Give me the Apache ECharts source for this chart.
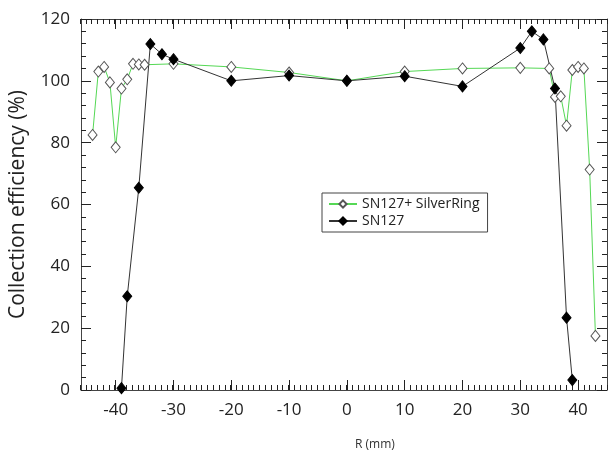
<!DOCTYPE html>
<html>
<head>
<meta charset="utf-8">
<script src="https://cdn.jsdelivr.net/npm/echarts@6/dist/echarts.min.js"></script>
<style>
  html, body { margin: 0; padding: 0; background: #fff; }
  #chart { width: 611px; height: 453px; }
</style>
</head>
<body>
<div id="chart"></div>
<script>
// R (mm) positions and collection efficiency (%)
var ringR   = [-44, -43, -42, -41, -40, -39, -38, -37, -36, -35, -30, -20, -10, 0, 10, 20, 30, 35, 36, 37, 38, 39, 40, 41, 42, 43]
var ringEff = [82.5, 103, 104.5, 99.5, 78.5, 97.5, 100.5, 105.5, 105.3, 105.2, 105.5, 104.5, 102.7, 100, 103, 104, 104.2, 104, 94.8, 95, 85.5, 103.5, 104.5, 104, 71.3, 17.5]

var bareR   = [-39, -38, -36, -34, -32, -30, -20, -10, 0, 10, 20, 30, 32, 34, 36, 38, 39]
var bareEff = [0.6, 30.3, 65.4, 111.9, 108.6, 107, 100, 101.7, 100, 101.5, 98.2, 110.6, 116, 113.4, 97.5, 23.4, 3.2]

var xMajor = [-40, -30, -20, -10, 0, 10, 20, 30, 40]

function pairs(xs, ys) {
    var out = []
    for (var i = 0; i < xs.length; i++) out.push([xs[i], ys[i]])
    return out
}

var font = 'Open Sans'
var axisColor = '#444'
var tickColor = '#222'
var box = { left: 80, right: 4, top: 19, bottom: 63 }

// grid 0 carries the data and major ticks, grid 1 (same box) only the 1 mm minor ticks
function xAx(pos, major) {
    return {
        type: 'value', gridIndex: major ? 0 : 1, position: pos, min: -46, max: 45,
        interval: major ? 10 : 1,
        axisLine: { show: major, onZero: false, lineStyle: { color: axisColor, width: 1 } },
        axisTick: major
            ? { show: true, inside: true, length: 10, customValues: xMajor, lineStyle: { color: tickColor, width: 1 } }
            : { show: true, inside: true, interval: 0, length: 5, lineStyle: { color: tickColor, width: 1 } },
        axisLabel: (major && pos === 'bottom')
            ? { show: true, customValues: xMajor, margin: 12, fontSize: 17, fontFamily: font, color: '#222' }
            : { show: false },
        splitLine: { show: false }
    }
}

function yAx(pos, gi) {
    return {
        type: 'value', gridIndex: gi, position: pos, min: 0, max: 120, interval: 20,
        axisLine: { show: gi === 0, onZero: false, lineStyle: { color: axisColor, width: 1 } },
        axisTick: { show: gi === 0, inside: true, length: 10, lineStyle: { color: tickColor, width: 1 } },
        minorTick: { show: gi === 0, splitNumber: 5, length: 5, lineStyle: { color: tickColor, width: 1 } },
        axisLabel: (pos === 'left' && gi === 0)
            ? { show: true, margin: 11, fontSize: 17, fontFamily: font, color: '#222' }
            : { show: false },
        splitLine: { show: false },
        name: (pos === 'left' && gi === 0) ? 'Collection efficiency (%)' : '',
        nameLocation: 'middle',
        nameGap: 52,
        nameTextStyle: { fontSize: 21, fontFamily: font, color: '#222' }
    }
}

var chart = echarts.init(document.getElementById('chart'))
chart.setOption({
    animation: false,
    backgroundColor: '#fff',
    grid: [box, box],
    title: {
        text: 'R (mm)', left: 350, top: 434,
        textStyle: { fontSize: 12, fontWeight: 'normal', fontFamily: font, color: '#333' }
    },
    legend: {
        orient: 'vertical', left: 322, top: 193,
        backgroundColor: '#fff',
        borderColor: axisColor, borderWidth: 1,
        padding: [4, 8, 4, 6], itemGap: 3,
        itemWidth: 28, itemHeight: 9,
        textStyle: { fontSize: 14, fontFamily: font, color: '#222' },
        data: ['SN127+ SilverRing', 'SN127']
    },
    xAxis: [xAx('bottom', true), xAx('top', true), xAx('bottom', false), xAx('top', false)],
    yAxis: [yAx('left', 0), yAx('right', 0), yAx('left', 1)],
    series: [{
        name: 'SN127+ SilverRing',
        type: 'line',
        xAxisIndex: 0, yAxisIndex: 0,
        data: pairs(ringR, ringEff),
        symbol: 'diamond', symbolSize: [9, 11],
        lineStyle: { color: '#55d855', width: 1 },
        itemStyle: { color: '#fff', borderColor: '#555', borderWidth: 1 }
    }, {
        name: 'SN127',
        type: 'line',
        xAxisIndex: 0, yAxisIndex: 0,
        data: pairs(bareR, bareEff),
        symbol: 'diamond', symbolSize: [9, 11],
        lineStyle: { color: '#333', width: 1 },
        itemStyle: { color: '#000', borderColor: '#000', borderWidth: 1 }
    }]
})
</script>
</body>
</html>
